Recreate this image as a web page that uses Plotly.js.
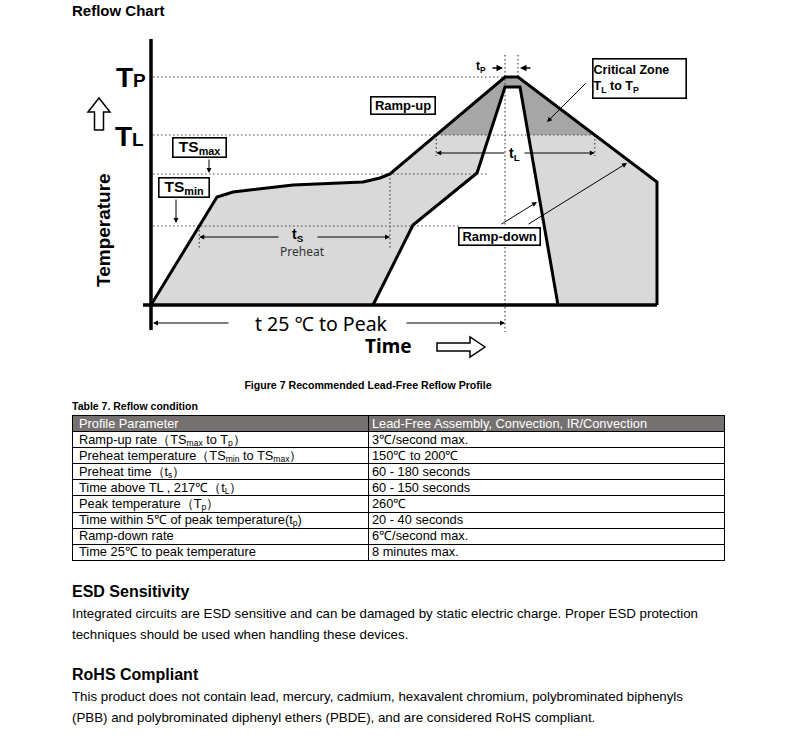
<!DOCTYPE html>
<html><head><meta charset="utf-8">
<script src="https://cdn.plot.ly/plotly-3.0.1.min.js"></script>
<style>
body{margin:0;background:#fff;font-family:Arial,"Liberation Sans",sans-serif;color:#000;}
#chart{position:absolute;left:0;top:0;width:793px;height:375px;}
.abs{position:absolute;white-space:nowrap;}
table{border-collapse:collapse;table-layout:fixed;}
td{border:1px solid #000;height:15.1px;padding:0 0 0 6px;font-size:12.8px;line-height:14px;overflow:hidden;white-space:nowrap;}
td.c2{padding-left:3px;}
tr.h td{background:#767171;color:#fff;}
sub{font-size:8.5px;vertical-align:-1.5px;line-height:0;}
</style></head><body>
<div id="chart"></div>
<div class="abs" style="left:0;width:736px;top:379px;text-align:center;font-weight:bold;font-size:10.6px;">Figure 7 Recommended Lead-Free Reflow Profile</div>
<div class="abs" style="left:72px;top:400px;font-weight:bold;font-size:10.5px;">Table 7. Reflow condition</div>
<table class="abs" id="tbl" style="left:72px;top:415px;width:652px;"></table>
<div class="abs" style="left:72px;top:583px;font-weight:bold;font-size:16px;">ESD Sensitivity</div>
<div class="abs" style="left:72px;top:603px;font-size:13.3px;line-height:21px;">Integrated circuits are ESD sensitive and can be damaged by static electric charge. Proper ESD protection<br>techniques should be used when handling these devices.</div>
<div class="abs" style="left:72px;top:666px;font-weight:bold;font-size:16px;">RoHS Compliant</div>
<div class="abs" style="left:72px;top:686px;font-size:13.3px;line-height:21px;">This product does not contain lead, mercury, cadmium, hexavalent chromium, polybrominated biphenyls<br>(PBB) and polybrominated diphenyl ethers (PBDE), and are considered RoHS compliant.</div>
<script>
// ---- profile data (time units, temperature units) ----
const outerTime = [0, 66, 82, 142, 212, 229, 239, 354, 367, 506, 506];
const outerTemp = [0, 108, 113, 120, 123, 127, 131, 228, 228, 123, 0];
const innerTime = [222, 262, 326, 354, 369, 407];
const innerTemp = [0, 80, 132, 218, 218, 0];
const levelNames = ['TP', 'TL', 'TSmax', 'TSmin'];
const levelTemps = [228, 170, 131, 79];
const levelEnds  = [352, 442, 337, 310];
// ---- table data ----
const tableHeader = ['Profile Parameter', 'Lead-Free Assembly, Convection, IR/Convection'];
const tableParams = [
  'Ramp-up rate（TS<sub>max</sub> to T<sub>p</sub>）',
  'Preheat temperature（TS<sub>min</sub> to TS<sub>max</sub>）',
  'Preheat time（t<sub>s</sub>）',
  'Time above TL , 217℃（t<sub>L</sub>）',
  'Peak temperature（T<sub>p</sub>）',
  'Time within 5℃ of peak temperature(t<sub>p</sub>)',
  'Ramp-down rate',
  'Time 25℃ to peak temperature'];
const tableValues = ['3℃/second max.', '150℃ to 200℃', '60 - 180 seconds', '60 - 150 seconds', '260℃', '20 - 40 seconds', '6℃/second max.', '8 minutes max.'];

// build table
(function(){
  const t = document.getElementById('tbl');
  let h = '<colgroup><col style="width:296px"><col style="width:356px"></colgroup>';
  h += '<tr class="h"><td>'+tableHeader[0]+'</td><td class="c2">'+tableHeader[1]+'</td></tr>';
  for (let i=0;i<tableParams.length;i++) h += '<tr><td>'+tableParams[i]+'</td><td class="c2">'+tableValues[i]+'</td></tr>';
  t.innerHTML = h;
})();

// helpers
function interpX(xs, ys, i, y){
  const t = (y-ys[i])/(ys[i+1]-ys[i]); return xs[i]+t*(xs[i+1]-xs[i]);
}
function clipAbove(xs, ys, lvl){
  const px=[], py=[], n=xs.length;
  for(let i=0;i<n;i++){
    const j=(i+1)%n;
    const a=ys[i]>=lvl, b=ys[j]>=lvl;
    if(a){px.push(xs[i]);py.push(ys[i]);}
    if(a!==b){const t=(lvl-ys[i])/(ys[j]-ys[i]);px.push(xs[i]+t*(xs[j]-xs[i]));py.push(lvl);}
  }
  return [px,py];
}
const TP=levelTemps[0], TL=levelTemps[1], TSMAX=levelTemps[2], TSMIN=levelTemps[3];
const crit = clipAbove(outerTime, outerTemp, TL);
const tsStart = interpX(outerTime, outerTemp, 0, TSMIN);
const tsEnd = outerTime[6];
const tlStart = interpX(outerTime, outerTemp, 6, TL);
const tlEnd = interpX(outerTime, outerTemp, 8, TL);
const tpStart = outerTime[7], tpEnd = outerTime[8];

const dotted = {color:'#444', width:1.2, dash:'1.5px,2.5px'};
const traces = [];
traces.push({x:outerTime, y:outerTemp, fill:'toself', fillcolor:'#d9d9d9', mode:'none', hoverinfo:'skip'});
traces.push({x:crit[0], y:crit[1], fill:'toself', fillcolor:'#a6a6a6', mode:'none', hoverinfo:'skip'});
traces.push({x:innerTime, y:innerTemp, fill:'toself', fillcolor:'#ffffff', mode:'none', hoverinfo:'skip'});
for(let i=0;i<levelTemps.length;i++){
  traces.push({x:[2, levelEnds[i]], y:[levelTemps[i], levelTemps[i]], mode:'lines', line:dotted, hoverinfo:'skip'});
}
const vlines = [[tsStart, TSMIN, 57],[tsEnd, TSMAX, 55],[tlStart, TL, 149],[tlEnd, TL, 149],[tpStart, 250, -27],[tpEnd, 250, TP]];
vlines.forEach(v=>traces.push({x:[v[0],v[0]], y:[v[1],v[2]], mode:'lines', line:dotted, hoverinfo:'skip'}));
traces.push({x:outerTime, y:outerTemp, mode:'lines', line:{color:'#000', width:3}, hoverinfo:'skip'});
traces.push({x:innerTime, y:innerTemp, mode:'lines', line:{color:'#000', width:3}, hoverinfo:'skip'});
traces.push({x:[0,0], y:[266,-25], mode:'lines', line:{color:'#000', width:3.5}, hoverinfo:'skip'});
traces.push({x:[-8,outerTime[outerTime.length-1]], y:[0,0], mode:'lines', line:{color:'#000', width:3.5}, hoverinfo:'skip'});

function arrow(x,y,ax,ay,w){
  return {x:x,y:y,ax:ax,ay:ay,xref:'x',yref:'y',axref:'x',ayref:'y',text:'',showarrow:true,arrowhead:2,arrowsize:1,arrowwidth:w||1,arrowcolor:'#000'};
}
function label(x,y,text,size,opts){
  return Object.assign({x:x,y:y,xref:'x',yref:'y',text:text,showarrow:false,font:{family:'Arial, Liberation Sans',size:size,color:'#000'}},opts||{});
}
function box(x,y,text,size,w,h,opts){
  return Object.assign({x:x,y:y,xref:'x',yref:'y',text:text,showarrow:false,width:w,height:h,bgcolor:'#fff',bordercolor:'#000',borderwidth:1.6,borderpad:0,
    font:{family:'Arial, Liberation Sans',size:size,color:'#000'}},opts||{});
}
const ann = [];
ann.push(arrow(tsStart,68,129,68), arrow(tsEnd,68,165,68));
ann.push(arrow(tlStart,152,355,152), arrow(tlEnd,152,372,152));
ann.push(arrow(2,-18,79,-18), arrow(tpStart,-18,254,-18));
ann.push(arrow(tpStart-2,237,tpStart-14,237,1.3), arrow(tpEnd+2,237,tpEnd+14,237,1.3));
ann.push(arrow(58,132,58,147), arrow(25,82,25,107));
ann.push(arrow(396,183,436,223), arrow(386,103,349,80), arrow(476,142,376,80));
ann.push(arrow(292,184,290,186), arrow(335,184,333,186));
ann.push(label(-3,228,'<b>T<span style="font-size:19px">P</span></b>',28,{xanchor:'right',yanchor:'middle'}));
ann.push(label(-5,169,'<b>T<span style="font-size:19px">L</span></b>',28,{xanchor:'right',yanchor:'middle'}));
ann.push(label(-48,75,'<b>Temperature</b>',19,{textangle:-90}));
ann.push(label(147,70,'<b>t<sub>S</sub></b>',14));
ann.push(label(151,54,'Preheat',12,{font:{family:'Noto Sans, Arial',size:12,color:'#333'}}));
ann.push(label(363,151,'<b>t<sub>L</sub></b>',14));
ann.push(label(330,238,'<b>t<sub>P</sub></b>',12));
ann.push(label(170,-18,'t 25 ℃ to Peak',19.5,{font:{family:'Noto Sans, Arial',size:19.5,color:'#000'}}));
ann.push(label(237,-41,'<b>Time</b>',19,{font:{family:'Noto Sans, Arial',size:19,color:'#000'}}));
ann.push(box(48.5,157.5,'<b>TS<sub>max</sub></b>',15.5,52,18));
ann.push(box(33,117.5,'<b>TS<sub>min</sub></b>',15.5,49,18));
ann.push(box(252,199.5,'<b>Ramp-up</b>',13,63,16));
ann.push(box(348.5,68.5,'<b>Ramp-down</b>',13,80,16));
ann.push(box(488.5,226.5,'<b>Critical Zone</b><br><b>T<sub>L</sub> to T<sub>P</sub></b>',12.5,92,38,{align:'left'}));

const shapes = [
  {type:'path', xref:'x', yref:'y', path:'M -52 207 L -63 193 L -56.5 193 L -56.5 175 L -47.5 175 L -47.5 193 L -41 193 Z', line:{color:'#000',width:1.5}, fillcolor:'#fff'},
  {type:'path', xref:'x', yref:'y', path:'M 334 -42 L 319 -32 L 319 -38 L 286 -38 L 286 -46 L 319 -46 L 319 -52 Z', line:{color:'#000',width:1.5}, fillcolor:'#fff'}
];

const layout = {
  width:793, height:375, margin:{l:0,r:0,t:0,b:0}, paper_bgcolor:'#fff', plot_bgcolor:'#fff', showlegend:false,
  title:{text:'<b>Reflow Chart</b>', x:72/793, xref:'container', xanchor:'left', y:1-11/375, yref:'container', yanchor:'middle', font:{family:'Arial, Liberation Sans', size:15, color:'#000'}},
  xaxis:{range:[-151,642], visible:false, fixedrange:true},
  yaxis:{range:[-70,305], visible:false, fixedrange:true},
  annotations:ann, shapes:shapes
};
Plotly.newPlot('chart', traces, layout, {staticPlot:true, displayModeBar:false});
</script>
</body></html>
